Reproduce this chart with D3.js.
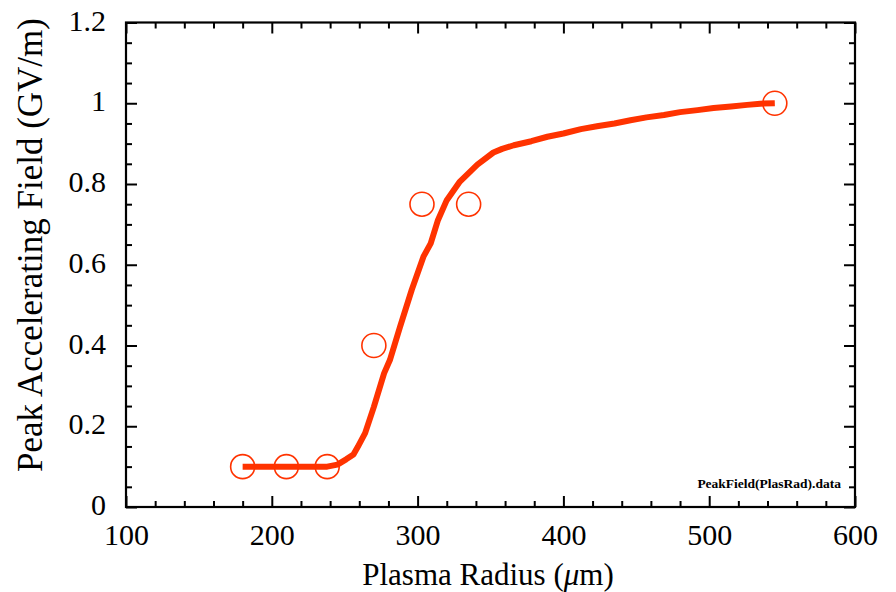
<!DOCTYPE html>
<html>
<head>
<meta charset="utf-8">
<script src="https://cdn.jsdelivr.net/npm/d3@7"></script>
<style>
  html, body { margin: 0; padding: 0; background: #fff; }
  svg { display: block; }
  svg text { font-family: "Liberation Serif", "Times New Roman", Tinos, Times, "DejaVu Serif", serif !important; fill: #000; }
</style>
</head>
<body>
<svg id="chart" width="896" height="592"></svg>
<script>
// Measured points: plasma radius (µm) vs. peak accelerating field (GV/m)
const radiusPts = [180, 210, 238, 270, 303, 335, 545];
const fieldPts  = [0.1, 0.1, 0.1, 0.4, 0.75, 0.75, 1.0];

// Simulated field curve
const curveRadius = [180, 238, 245, 251, 256, 259, 264, 270, 277, 281, 288, 296, 304, 309, 314, 320, 329, 341, 352, 358, 366, 378, 389, 400, 412, 423, 435, 446, 457, 469, 480, 492, 503, 515, 526, 535, 545];
const curveField  = [0.1, 0.1, 0.105, 0.118, 0.13, 0.149, 0.183, 0.248, 0.331, 0.364, 0.447, 0.538, 0.62, 0.653, 0.711, 0.76, 0.806, 0.848, 0.878, 0.887, 0.896, 0.906, 0.917, 0.925, 0.936, 0.943, 0.95, 0.958, 0.965, 0.971, 0.978, 0.983, 0.988, 0.992, 0.996, 0.999, 1.0];

const xMajor = [100, 200, 300, 400, 500, 600];
const yMajor = [0, 0.2, 0.4, 0.6, 0.8, 1, 1.2];
const yLabels = ["0", "0.2", "0.4", "0.6", "0.8", "1", "1.2"];

const red = "#ff3300";
const svg = d3.select("#chart");
const L = 126, R = 855, T = 22.5, B = 507;

const x = d3.scaleLinear().domain([100, 600]).range([L, R]);
const y = d3.scaleLinear().domain([0, 1.2]).range([B, T]);

const xMinor = d3.range(100, 600.001, 20).filter(v => !xMajor.includes(v));
const yMinor = d3.range(0, 1.2001, 0.05).map(v => +v.toFixed(2)).filter(v => !yMajor.some(m => Math.abs(m - v) < 1e-6));

const majLen = 11, minLen = 6;
const g = svg.append("g");

// Inward ticks on all four sides via d3 axes
function addAxis(axis, tx, ty) {
  const a = g.append("g").attr("transform", `translate(${tx},${ty})`).call(axis);
  a.attr("font-family", null);
  a.select(".domain").remove();
  a.selectAll("line").attr("stroke", "#000").attr("stroke-width", 2);
  return a;
}
const ab = addAxis(d3.axisBottom(x).tickValues(xMajor).tickSize(-majLen).tickFormat(d3.format("d")).tickPadding(17), 0, B);
ab.selectAll("text").attr("font-size", 30);
addAxis(d3.axisBottom(x).tickValues(xMinor).tickSize(-minLen).tickFormat(""), 0, B);
addAxis(d3.axisTop(x).tickValues(xMajor).tickSize(-majLen).tickFormat(""), 0, T);
addAxis(d3.axisTop(x).tickValues(xMinor).tickSize(-minLen).tickFormat(""), 0, T);

const al = addAxis(d3.axisLeft(y).tickValues(yMajor).tickSize(-majLen).tickPadding(20).tickFormat((d, i) => yLabels[i]), L, 0);
al.selectAll("text").attr("font-size", 30).attr("dy", "0.25em");
addAxis(d3.axisLeft(y).tickValues(yMinor).tickSize(-minLen).tickFormat(""), L, 0);
addAxis(d3.axisRight(y).tickValues(yMajor).tickSize(-majLen).tickFormat(""), R, 0);
addAxis(d3.axisRight(y).tickValues(yMinor).tickSize(-minLen).tickFormat(""), R, 0);

// Frame
g.append("rect").attr("x", L).attr("y", T).attr("width", R - L).attr("height", B - T)
  .attr("fill", "none").attr("stroke", "#000").attr("stroke-width", 2.2);

// Curve
const curveData = curveRadius.map((r, i) => [r, curveField[i]]);
g.append("path").datum(curveData)
  .attr("fill", "none").attr("stroke", red).attr("stroke-width", 6)
  .attr("stroke-linejoin", "round").attr("stroke-linecap", "butt")
  .attr("d", d3.line().x(d => x(d[0])).y(d => y(d[1])));

// Measured points
g.selectAll("circle.pt").data(radiusPts.map((r, i) => [r, fieldPts[i]]))
  .join("circle").attr("class", "pt")
  .attr("cx", d => x(d[0])).attr("cy", d => y(d[1])).attr("r", 12)
  .attr("fill", "none").attr("stroke", red).attr("stroke-width", 1.6);

// Data file tag
g.append("text").attr("x", 841).attr("y", 488).attr("text-anchor", "end")
  .attr("font-size", 13.5).attr("font-weight", "bold").text("PeakField(PlasRad).data");

// Axis titles
const xt = svg.append("text").attr("x", 488).attr("y", 585).attr("text-anchor", "middle").attr("font-size", 31);
xt.append("tspan").text("Plasma Radius (");
xt.append("tspan").attr("font-style", "italic").text("μ");
xt.append("tspan").text("m)");

svg.append("text").attr("transform", "translate(42,245) rotate(-90)")
  .attr("text-anchor", "middle").attr("font-size", 35)
  .text("Peak Accelerating Field (GV/m)");
</script>
</body>
</html>
